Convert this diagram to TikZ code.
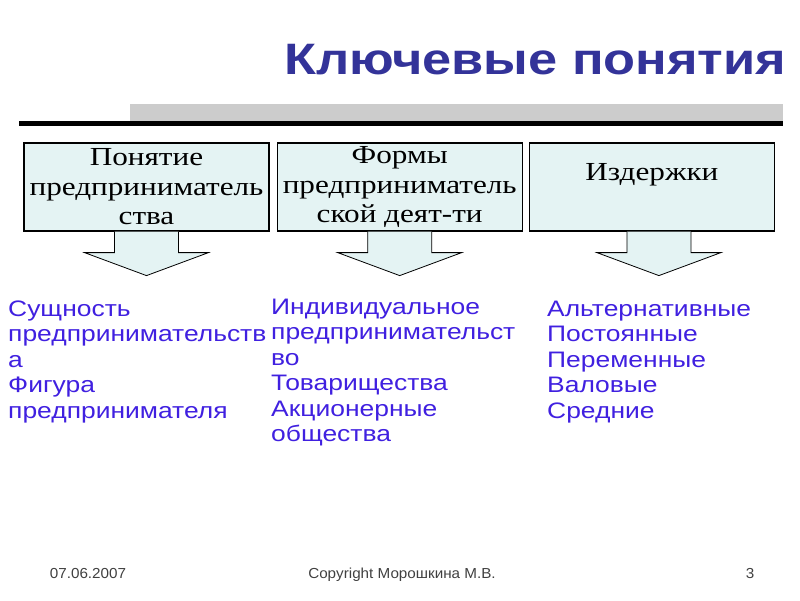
\documentclass[tikz,border=0pt]{standalone}
\usepackage{fontspec}
\usepackage{tikz}
\usetikzlibrary{positioning,calc}

\setmainfont{Liberation Sans}
\newfontfamily\titlefont[FakeStretch=1.19]{Liberation Sans}
\newfontfamily\boxfont[FakeStretch=1.2]{Liberation Serif}
\newfontfamily\listfont[FakeStretch=1.18]{Liberation Sans}
\newfontfamily\footfont[FakeStretch=1.05]{Liberation Sans}

\definecolor{titleblue}{RGB}{51,51,153}
\definecolor{listblue}{RGB}{64,32,224}
\definecolor{boxfill}{RGB}{228,243,243}
\definecolor{bargray}{RGB}{204,204,204}
\definecolor{footgray}{RGB}{64,64,64}

\tikzset{
    box/.style={rectangle, draw, fill=boxfill, line width=1.2pt,
        minimum width=245pt, minimum height=88pt, inner sep=0pt,
        align=center, font=\boxfont\fontsize{26}{29.5}\selectfont},
    arrowdown/.style={draw, fill=boxfill, line width=0.8pt},
    itemlist/.style={anchor=north west, inner sep=0pt, align=left,
        text=listblue, font=\listfont\fontsize{22.4}{25.5}\selectfont},
    foot/.style={anchor=base, inner sep=0pt, text=footgray,
        font=\footfont\fontsize{14.5}{16}\selectfont}
}

\begin{document}
\begin{tikzpicture}[x=1pt, y=-1pt]

    \useasboundingbox (0,0) rectangle (800,600);

    % heading and rule
    \node[anchor=base west, inner sep=0pt, text=titleblue,
        font=\titlefont\bfseries\fontsize{44}{50}\selectfont] (title) at (284,74) {Ключевые понятия};
    \fill[bargray] (130,104) rectangle (783,121);
    \fill[black] (19,121) rectangle (783,126);

    % three boxes
    \node[box] (pon) at (146.5,187) {Понятие\\предприниматель\\ства};
    \node[box, right=7pt of pon] (form) {Формы\\предприниматель\\ской деят-ти};
    \node[box, right=6pt of form] (izd) {Издержки\\\mbox{}};

    % block arrows under the boxes
    \foreach \b/\dx in {pon/0, form/0, izd/7}{
        \draw[arrowdown] ($(\b.south)+(\dx-32,0)$) -- ++(0,21) -- ++(-30,0)
            -- ++(62,23) -- ++(62,-23) -- ++(-30,0) -- ++(0,-21);
    }

    % lists
    \node[itemlist] (ponlist) at (8,300.5) {Сущность\\предпринимательств\\а\\Фигура\\предпринимателя};
    \node[itemlist] (formlist) at (271,298.5) {Индивидуальное\\предпринимательст\\во\\Товарищества\\Акционерные\\общества};
    \node[itemlist] (izdlist) at (547,300.5) {Альтернативные\\Постоянные\\Переменные\\Валовые\\Средние};

    % footer
    \node[foot] (date) at (88,578) {07.06.2007};
    \node[foot] (copy) at (402,578) {Copyright Морошкина М.В.};
    \node[foot] (page) at (750,578) {3};

\end{tikzpicture}
\end{document}
